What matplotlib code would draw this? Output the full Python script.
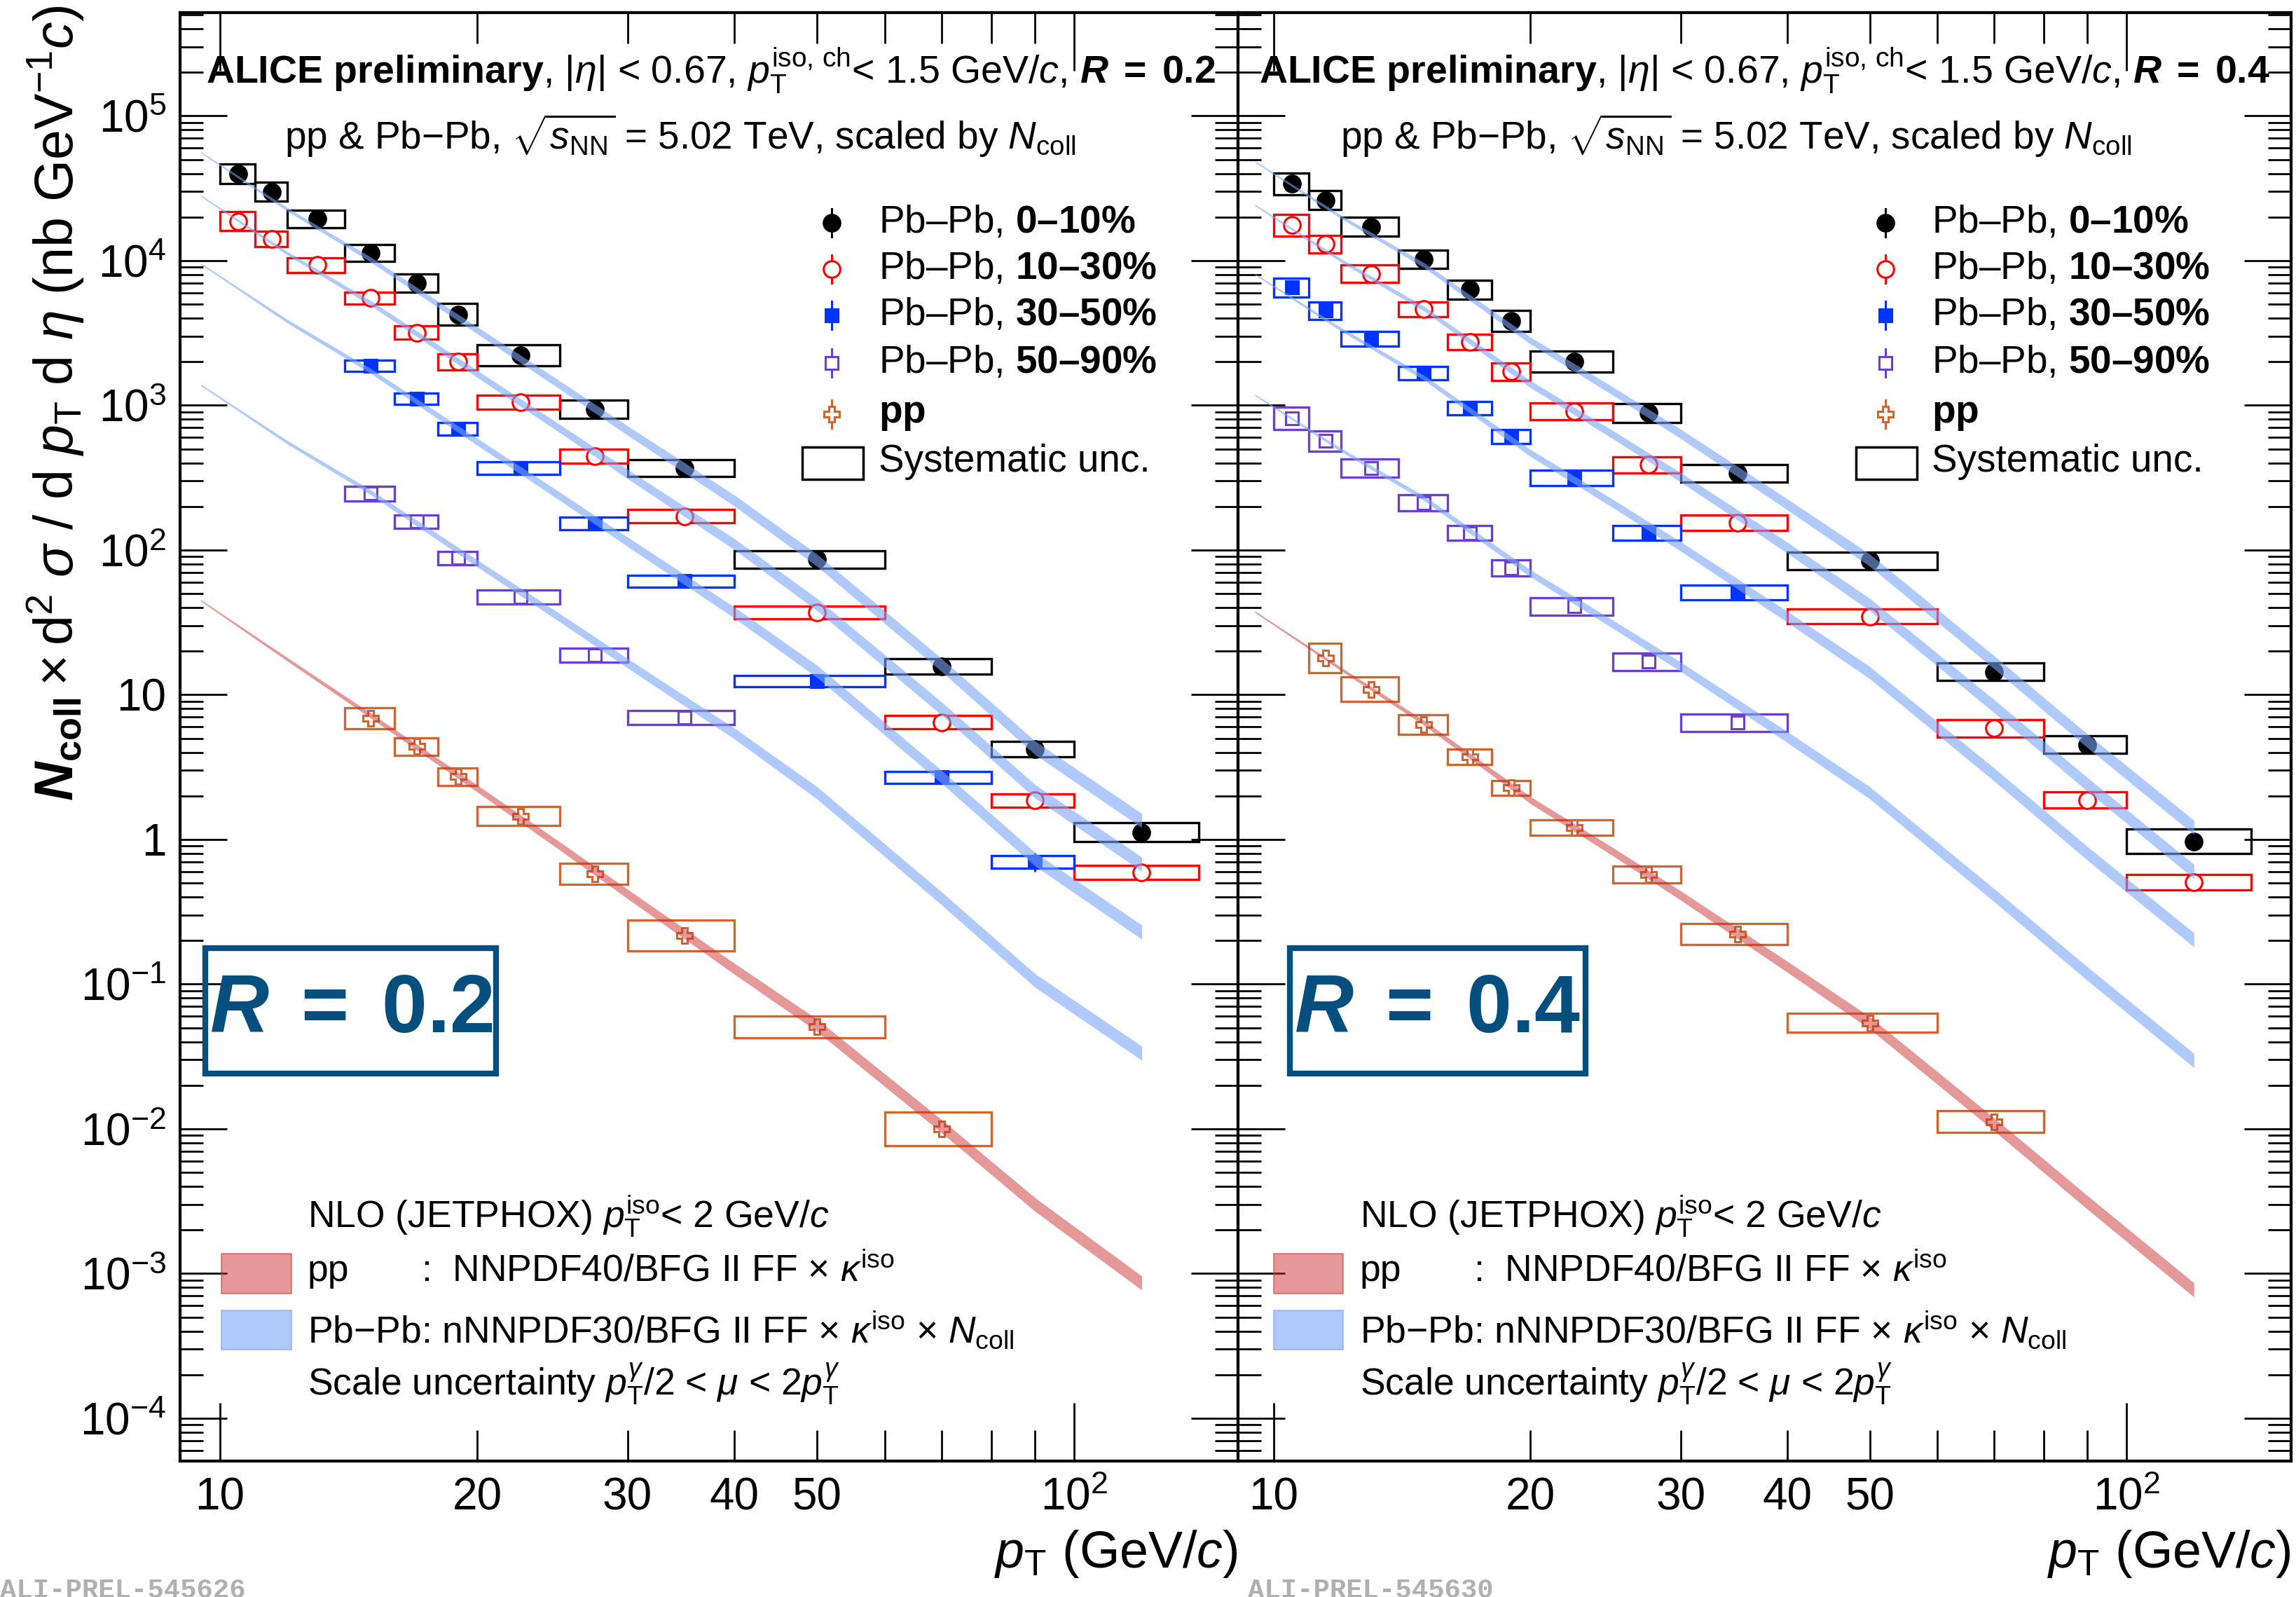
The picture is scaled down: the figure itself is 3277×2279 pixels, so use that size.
#isolated photon spectra, pp and Pb-Pb, R=0.2 and R=0.4
import numpy as np
import matplotlib.pyplot as plt
from matplotlib.patches import Rectangle
from matplotlib.ticker import FixedLocator, FixedFormatter, LogLocator, FuncFormatter, NullFormatter

plt.rcParams['font.family'] = ['Liberation Sans', 'DejaVu Sans']
plt.rcParams['mathtext.fontset'] = 'custom'
plt.rcParams['mathtext.rm'] = 'Liberation Sans'
plt.rcParams['mathtext.it'] = 'Liberation Sans:italic'
plt.rcParams['mathtext.bf'] = 'Liberation Sans:bold'
try:
    plt.rcParams['mathtext.bfit'] = 'Liberation Sans:bold:italic'
except KeyError:
    pass

# pT bin edges (GeV/c)
edges = [10, 11, 12, 14, 16, 18, 20, 25, 30, 40, 60, 80, 100, 140]

# R = 0.2 measurements (values, rel. sys, rel. stat)
r02_c0010 = [3.99e4, 2.99e4, 1.94e4, 1.13e4, 7.0e3, 4.25e3, 2.22e3, 940, 369, 86, 15.7, 4.2, 1.12]
r02_c0010_sys = [0.17, 0.16, 0.15, 0.144, 0.155, 0.184, 0.179, 0.155, 0.144, 0.15, 0.135, 0.133, 0.16]
r02_c0010_stat = [0.01, 0.01, 0.01, 0.01, 0.01, 0.01, 0.015, 0.02, 0.02, 0.03, 0.04, 0.06, 0.08]
r02_c1030 = [1.87e4, 1.41e4, 9.3e3, 5.5e3, 3.17e3, 2.0e3, 1.05e3, 446, 171, 37, 6.46, 1.86, 0.594]
r02_c1030_sys = [0.164, 0.13, 0.122, 0.105, 0.113, 0.137, 0.122, 0.118, 0.113, 0.1, 0.113, 0.11, 0.118]
r02_c1030_stat = [0.01, 0.01, 0.01, 0.01, 0.01, 0.015, 0.015, 0.02, 0.03, 0.04, 0.05, 0.07, 0.09]
r02_c3050 = [1.87e3, 1.11e3, 688, 369, 153, 60.8, 12.4, 2.68, 0.70]
r02_c3050_sys = [0.094, 0.096, 0.11, 0.105, 0.108, 0.102, 0.098, 0.105, 0.105]
r02_c3050_stat = [0.02, 0.02, 0.02, 0.02, 0.03, 0.03, 0.04, 0.07, 0.15]
r02_c5090 = [245, 157, 88, 47.4, 18.8, 6.95]
r02_c5090_sys = [0.122, 0.116, 0.113, 0.116, 0.118, 0.112]
r02_c5090_stat = [0.03, 0.03, 0.04, 0.04, 0.05, 0.06]
r02_pp = [6.87, 4.39, 2.72, 1.45, 0.577, 0.217, 0.0507, 0.0100]
r02_pp_sys = [0.178, 0.15, 0.148, 0.166, 0.184, 0.275, 0.189, 0.308]
r02_pp_stat = [0.02, 0.02, 0.02, 0.03, 0.03, 0.04, 0.06, 0.10]

# R = 0.4 measurements
r04_c0010 = [3.39e4, 2.61e4, 1.71e4, 1.02e4, 6.3e3, 3.83e3, 2.0e3, 885, 340, 84, 14.4, 4.52, 0.97]
r04_c0010_sys = [0.184, 0.161, 0.161, 0.155, 0.161, 0.187, 0.18, 0.164, 0.15, 0.15, 0.15, 0.15, 0.219]
r04_c0010_stat = [0.01, 0.01, 0.01, 0.01, 0.01, 0.01, 0.015, 0.02, 0.02, 0.03, 0.04, 0.06, 0.08]
r04_c1030 = [1.76e4, 1.30e4, 8.1e3, 4.6e3, 2.74e3, 1.71e3, 908, 387, 154, 34.7, 5.85, 1.87, 0.506]
r04_c1030_sys = [0.19, 0.147, 0.147, 0.13, 0.135, 0.152, 0.137, 0.133, 0.135, 0.122, 0.148, 0.135, 0.135]
r04_c1030_stat = [0.01, 0.01, 0.01, 0.01, 0.01, 0.015, 0.015, 0.02, 0.03, 0.04, 0.05, 0.07, 0.09]
r04_c3050 = [6.5e3, 4.5e3, 2.88e3, 1.67e3, 955, 607, 315, 131, 51]
r04_c3050_sys = [0.167, 0.144, 0.122, 0.116, 0.116, 0.116, 0.125, 0.122, 0.122]
r04_c3050_stat = [0.02, 0.02, 0.02, 0.02, 0.02, 0.03, 0.03, 0.04, 0.05]
r04_c5090 = [811, 566, 369, 211, 131, 75, 40.8, 16.9, 6.4]
r04_c5090_sys = [0.193, 0.175, 0.159, 0.137, 0.122, 0.135, 0.15, 0.148, 0.148]
r04_c5090_stat = [0.03, 0.03, 0.03, 0.03, 0.04, 0.04, 0.05, 0.06, 0.07]
r04_pp = [17.9, 10.9, 6.25, 3.74, 2.27, 1.21, 0.574, 0.222, 0.054, 0.0112]
r04_pp_sys = [0.263, 0.212, 0.169, 0.13, 0.126, 0.133, 0.144, 0.184, 0.166, 0.191]
r04_pp_stat = [0.02, 0.02, 0.02, 0.02, 0.03, 0.03, 0.03, 0.04, 0.06, 0.10]

# JETPHOX NLO curves
pt_th = [9.5, 12, 15, 20, 25, 30, 40, 50, 70, 90, 120]
scale_unc = [0.012, 0.028, 0.04, 0.057, 0.067, 0.077, 0.091, 0.102, 0.109, 0.114, 0.119]
r02_th_pp = [44.8, 17.5, 7.2, 2.25, 0.9, 0.42, 0.128, 0.052, 0.0104, 0.0030, 0.00086]
r02_th_0010 = [5.6e4, 2.25e4, 1.02e4, 3.3e3, 1.38e3, 670, 220, 85, 16, 4.3, 1.35]
r02_th_1030 = [2.8e4, 1.12e4, 5.1e3, 1.65e3, 690, 335, 110, 42, 8.0, 2.15, 0.675]
r02_th_3050 = [9.5e3, 3.8e3, 1.73e3, 560, 235, 114, 37, 14.5, 2.7, 0.73, 0.229]
r02_th_5090 = [1.38e3, 553, 251, 81, 34, 16.5, 5.4, 2.1, 0.39, 0.106, 0.0333]
r04_th_pp = [37.5, 15, 6.4, 1.87, 0.82, 0.41, 0.132, 0.054, 0.0107, 0.0031, 0.00077]
r04_th_0010 = [4.84e4, 2.0e4, 9.3e3, 2.8e3, 1.25e3, 635, 207, 85, 16.7, 4.8, 1.21]
r04_th_1030 = [2.42e4, 1.0e4, 4.65e3, 1.4e3, 625, 318, 104, 42, 8.3, 2.4, 0.6]
r04_th_3050 = [8.07e3, 3.34e3, 1.55e3, 468, 209, 106, 34.6, 14.2, 2.8, 0.8, 0.202]
r04_th_5090 = [1.18e3, 490, 228, 69, 30.6, 15.6, 5.1, 2.1, 0.41, 0.118, 0.0296]

c_0010 = 'black'
c_1030 = '#ff0000'
c_3050 = '#0033ff'
c_5090 = '#6b3fd4'
c_pp = '#cc6633'
c_band_aa = '#7aa5f7'
c_band_pp = '#cc3333'
c_rbox = '#054f7f'

# marker, face colour, size
styles = {
    '0010': (c_0010, 'o', c_0010, 17),
    '1030': (c_1030, 'o', 'white', 17),
    '3050': (c_3050, 's', c_3050, 12.5),
    '5090': (c_5090, 's', 'white', 13),
    'pp': (c_pp, 'P', 'white', 16),
}


def draw_series(ax, first, vals, sys, stat, key):
    col, mk, mfc, ms = styles[key]
    n = len(vals)
    lo = edges[first:first + n]
    hi = edges[first + 1:first + n + 1]
    x = [(a + b) / 2 for a, b in zip(lo, hi)]
    for a, b, v, s in zip(lo, hi, vals, sys):
        ax.add_patch(Rectangle((a, v / (1 + s)), b - a, v * (1 + s) - v / (1 + s),
                               fill=False, ec=col, lw=2.4, zorder=2))
    err = [v * e for v, e in zip(vals, stat)]
    ax.errorbar(x, vals, yerr=err, fmt=mk, color=col, mfc=mfc, mec=col, ms=ms,
                mew=2.2, elinewidth=2.2, capsize=0, zorder=3)


def draw_band(ax, center, color, alpha):
    lo = [c / (1 + u) for c, u in zip(center, scale_unc)]
    hi = [c * (1 + u) for c, u in zip(center, scale_unc)]
    ax.fill_between(pt_th, lo, hi, color=color, alpha=alpha, lw=0, zorder=4)


def ylab(v, pos):
    e = int(round(np.log10(v)))
    if e == 0:
        return '1'
    if e == 1:
        return '10'
    return r'$10^{%d}$' % e


fig = plt.figure(figsize=(32.77, 22.79), dpi=100)
axL = fig.add_axes([257 / 3277, 1 - 2085 / 2279, 1510 / 3277, 2067 / 2279])
axR = fig.add_axes([1767 / 3277, 1 - 2085 / 2279, 1503 / 3277, 2067 / 2279])

panels = [
    (axL, '0.2', (8.98, 155.6),
     [(0, r02_c0010, r02_c0010_sys, r02_c0010_stat, '0010'),
      (0, r02_c1030, r02_c1030_sys, r02_c1030_stat, '1030'),
      (3, r02_c3050, r02_c3050_sys, r02_c3050_stat, '3050'),
      (3, r02_c5090, r02_c5090_sys, r02_c5090_stat, '5090'),
      (3, r02_pp, r02_pp_sys, r02_pp_stat, 'pp')],
     [r02_th_0010, r02_th_1030, r02_th_3050, r02_th_5090], r02_th_pp,
     0.616, 0.1205, 0.228, 0.039, (0.024, 0.299)),
    (axR, '0.4', (9.08, 156.0),
     [(0, r04_c0010, r04_c0010_sys, r04_c0010_stat, '0010'),
      (0, r04_c1030, r04_c1030_sys, r04_c1030_stat, '1030'),
      (0, r04_c3050, r04_c3050_sys, r04_c3050_stat, '3050'),
      (0, r04_c5090, r04_c5090_sys, r04_c5090_stat, '5090'),
      (1, r04_pp, r04_pp_sys, r04_pp_stat, 'pp')],
     [r04_th_0010, r04_th_1030, r04_th_3050, r04_th_5090], r04_th_pp,
     0.615, 0.1155, 0.2235, 0.034, (0.049, 0.330)),
]

leg_keys = ['0010', '1030', '3050', '5090', 'pp']
leg_text = ['Pb–Pb, $\\mathbf{0–10\\%}$',
            'Pb–Pb, $\\mathbf{10–30\\%}$',
            'Pb–Pb, $\\mathbf{30–50\\%}$',
            'Pb–Pb, $\\mathbf{50–90\\%}$',
            '$\\mathbf{pp}$']
leg_y = [0.855, 0.823, 0.791, 0.758, 0.723]

for ax, rlab, xl, series, th_aa, th_pp, xm, xlow, xcolon, patchx, rbx in panels:
    ax.set_xscale('log')
    ax.set_yscale('log')
    ax.set_xlim(*xl)
    ax.set_ylim(5.06e-5, 5.17e5)

    for first, v, s, st, key in series:
        draw_series(ax, first, v, s, st, key)
    for band in th_aa:
        draw_band(ax, band, c_band_aa, 0.6)
    draw_band(ax, th_pp, c_band_pp, 0.5)

    # axes ticks
    ax.xaxis.set_major_locator(FixedLocator([10, 100]))
    ax.xaxis.set_major_formatter(FixedFormatter(['10', r'$10^{2}$']))
    ax.xaxis.set_minor_locator(FixedLocator([20, 30, 40, 50, 60, 70, 80, 90]))
    ax.xaxis.set_minor_formatter(FixedFormatter(['20', '30', '40', '50', '', '', '', '']))
    ax.yaxis.set_major_locator(LogLocator(base=10, numticks=20))
    ax.yaxis.set_minor_locator(LogLocator(base=10, subs=np.arange(2, 10), numticks=20))
    ax.yaxis.set_minor_formatter(NullFormatter())
    if ax is axL:
        ax.yaxis.set_major_formatter(FuncFormatter(ylab))
    else:
        ax.yaxis.set_major_formatter(NullFormatter())
    ax.tick_params(which='both', direction='in', top=True, right=True, width=2)
    ax.tick_params(axis='x', which='major', length=60, labelsize=46, pad=16)
    ax.tick_params(axis='x', which='minor', length=32, labelsize=46, pad=16)
    ax.tick_params(axis='y', which='major', length=48, labelsize=46, pad=14)
    ax.tick_params(axis='y', which='minor', length=24)
    for sp in ax.spines.values():
        sp.set_linewidth(3)

    ax.text(1.0, -0.064, r'$p_{\mathrm{T}}$ (GeV/$c$)', transform=ax.transAxes,
            ha='right', va='center', fontsize=53)

    # header
    ax.text(0.979 if ax is axL else 0.98, 0.960,
            r'$\mathbf{ALICE\ preliminary}$, |$\eta$| < 0.67, $p_{\mathrm{T}}^{\mathrm{iso,\,ch}}$< 1.5 GeV/$c$, '
            r'$\mathbfit{R}\;\mathbf{=}\;\mathbf{%s}$' % rlab,
            transform=ax.transAxes, ha='right', va='center', fontsize=40)
    ax.text(0.473, 0.915,
            r'pp & Pb$-$Pb, $\sqrt{s_{\mathrm{NN}}}$ = 5.02 TeV, scaled by $N_{\mathrm{coll}}$',
            transform=ax.transAxes, ha='center', va='center', fontsize=39.5)

    # legend
    for key, txt, y in zip(leg_keys, leg_text, leg_y):
        col, mk, mfc, ms = styles[key]
        ax.plot([xm, xm], [y - 0.0097, y + 0.0097], color=col, lw=2.2,
                transform=ax.transAxes, zorder=5)
        ax.plot([xm], [y], marker=mk, color=col, mfc=mfc, mec=col, ms=ms, mew=2.2,
                transform=ax.transAxes, zorder=6)
        ax.text(xm + 0.044, y, txt, transform=ax.transAxes, ha='left', va='center',
                fontsize=39.5)
    ax.add_patch(Rectangle((xm - 0.028, 0.678), 0.058, 0.022, transform=ax.transAxes,
                           fill=False, ec='black', lw=2.5, zorder=5))
    ax.text(xm + 0.044, 0.690, 'Systematic unc.', transform=ax.transAxes, ha='left',
            va='center', fontsize=39.5)

    # theory legend
    ax.text(xlow, 0.169, r'NLO (JETPHOX) $p_{\mathrm{T}}^{\mathrm{iso}}$< 2 GeV/$c$',
            transform=ax.transAxes, ha='left', va='center', fontsize=38.5)
    ax.add_patch(Rectangle((patchx, 0.1156), 0.066, 0.0274,
                           transform=ax.transAxes, fc=c_band_pp, alpha=0.5,
                           ec=c_band_pp, lw=1.5, zorder=5))
    ax.text(xlow, 0.131, 'pp', transform=ax.transAxes, ha='left', va='center', fontsize=38.5)
    ax.text(xcolon, 0.131, r':  NNPDF40/BFG II FF $\times$ $\kappa^{\mathrm{iso}}$',
            transform=ax.transAxes, ha='left', va='center', fontsize=38.5)
    ax.add_patch(Rectangle((patchx, 0.077), 0.066, 0.027,
                           transform=ax.transAxes, fc=c_band_aa, alpha=0.6,
                           ec=c_band_aa, lw=1.5, zorder=5))
    ax.text(xlow, 0.0905,
            r'Pb$-$Pb: nNNPDF30/BFG II FF $\times$ $\kappa^{\mathrm{iso}}$ $\times$ $N_{\mathrm{coll}}$',
            transform=ax.transAxes, ha='left', va='center', fontsize=38.5)
    ax.text(xlow, 0.0532,
            r'Scale uncertainty $p_{\mathrm{T}}^{\gamma}$/2 < $\mu$ < 2$p_{\mathrm{T}}^{\gamma}$',
            transform=ax.transAxes, ha='left', va='center', fontsize=38.5)

    # jet radius box
    ax.add_patch(Rectangle((rbx[0], 0.2675), rbx[1] - rbx[0], 0.0865, transform=ax.transAxes,
                           fill=False, ec=c_rbox, lw=6, zorder=5))
    ax.text((rbx[0] + rbx[1]) / 2, 0.311, r'$\mathbfit{R}\;\mathbf{=}\;\mathbf{%s}$' % rlab,
            transform=ax.transAxes, ha='center', va='center', fontsize=84, color=c_rbox)

fig.text(79 / 3277, 1 - 8 / 2279,
         r'$\mathbfit{N}_{\mathbf{coll}}\times\mathrm{d}^{2}\ \sigma\ /\ \mathrm{d}\ p_{\mathrm{T}}\ \mathrm{d}\ \eta$ (nb GeV$^{-1}$$c$)',
         rotation=90, ha='center', va='top', fontsize=55.5)

fig.text(0.0, -0.004, 'ALI-PREL-545626', fontsize=28, color='#b0b0b0',
         family='Liberation Mono', fontweight='bold', ha='left', va='bottom')
fig.text(1781 / 3277, -0.004, 'ALI-PREL-545630', fontsize=28, color='#b0b0b0',
         family='Liberation Mono', fontweight='bold', ha='left', va='bottom')

fig.savefig('out.png', dpi=100)
